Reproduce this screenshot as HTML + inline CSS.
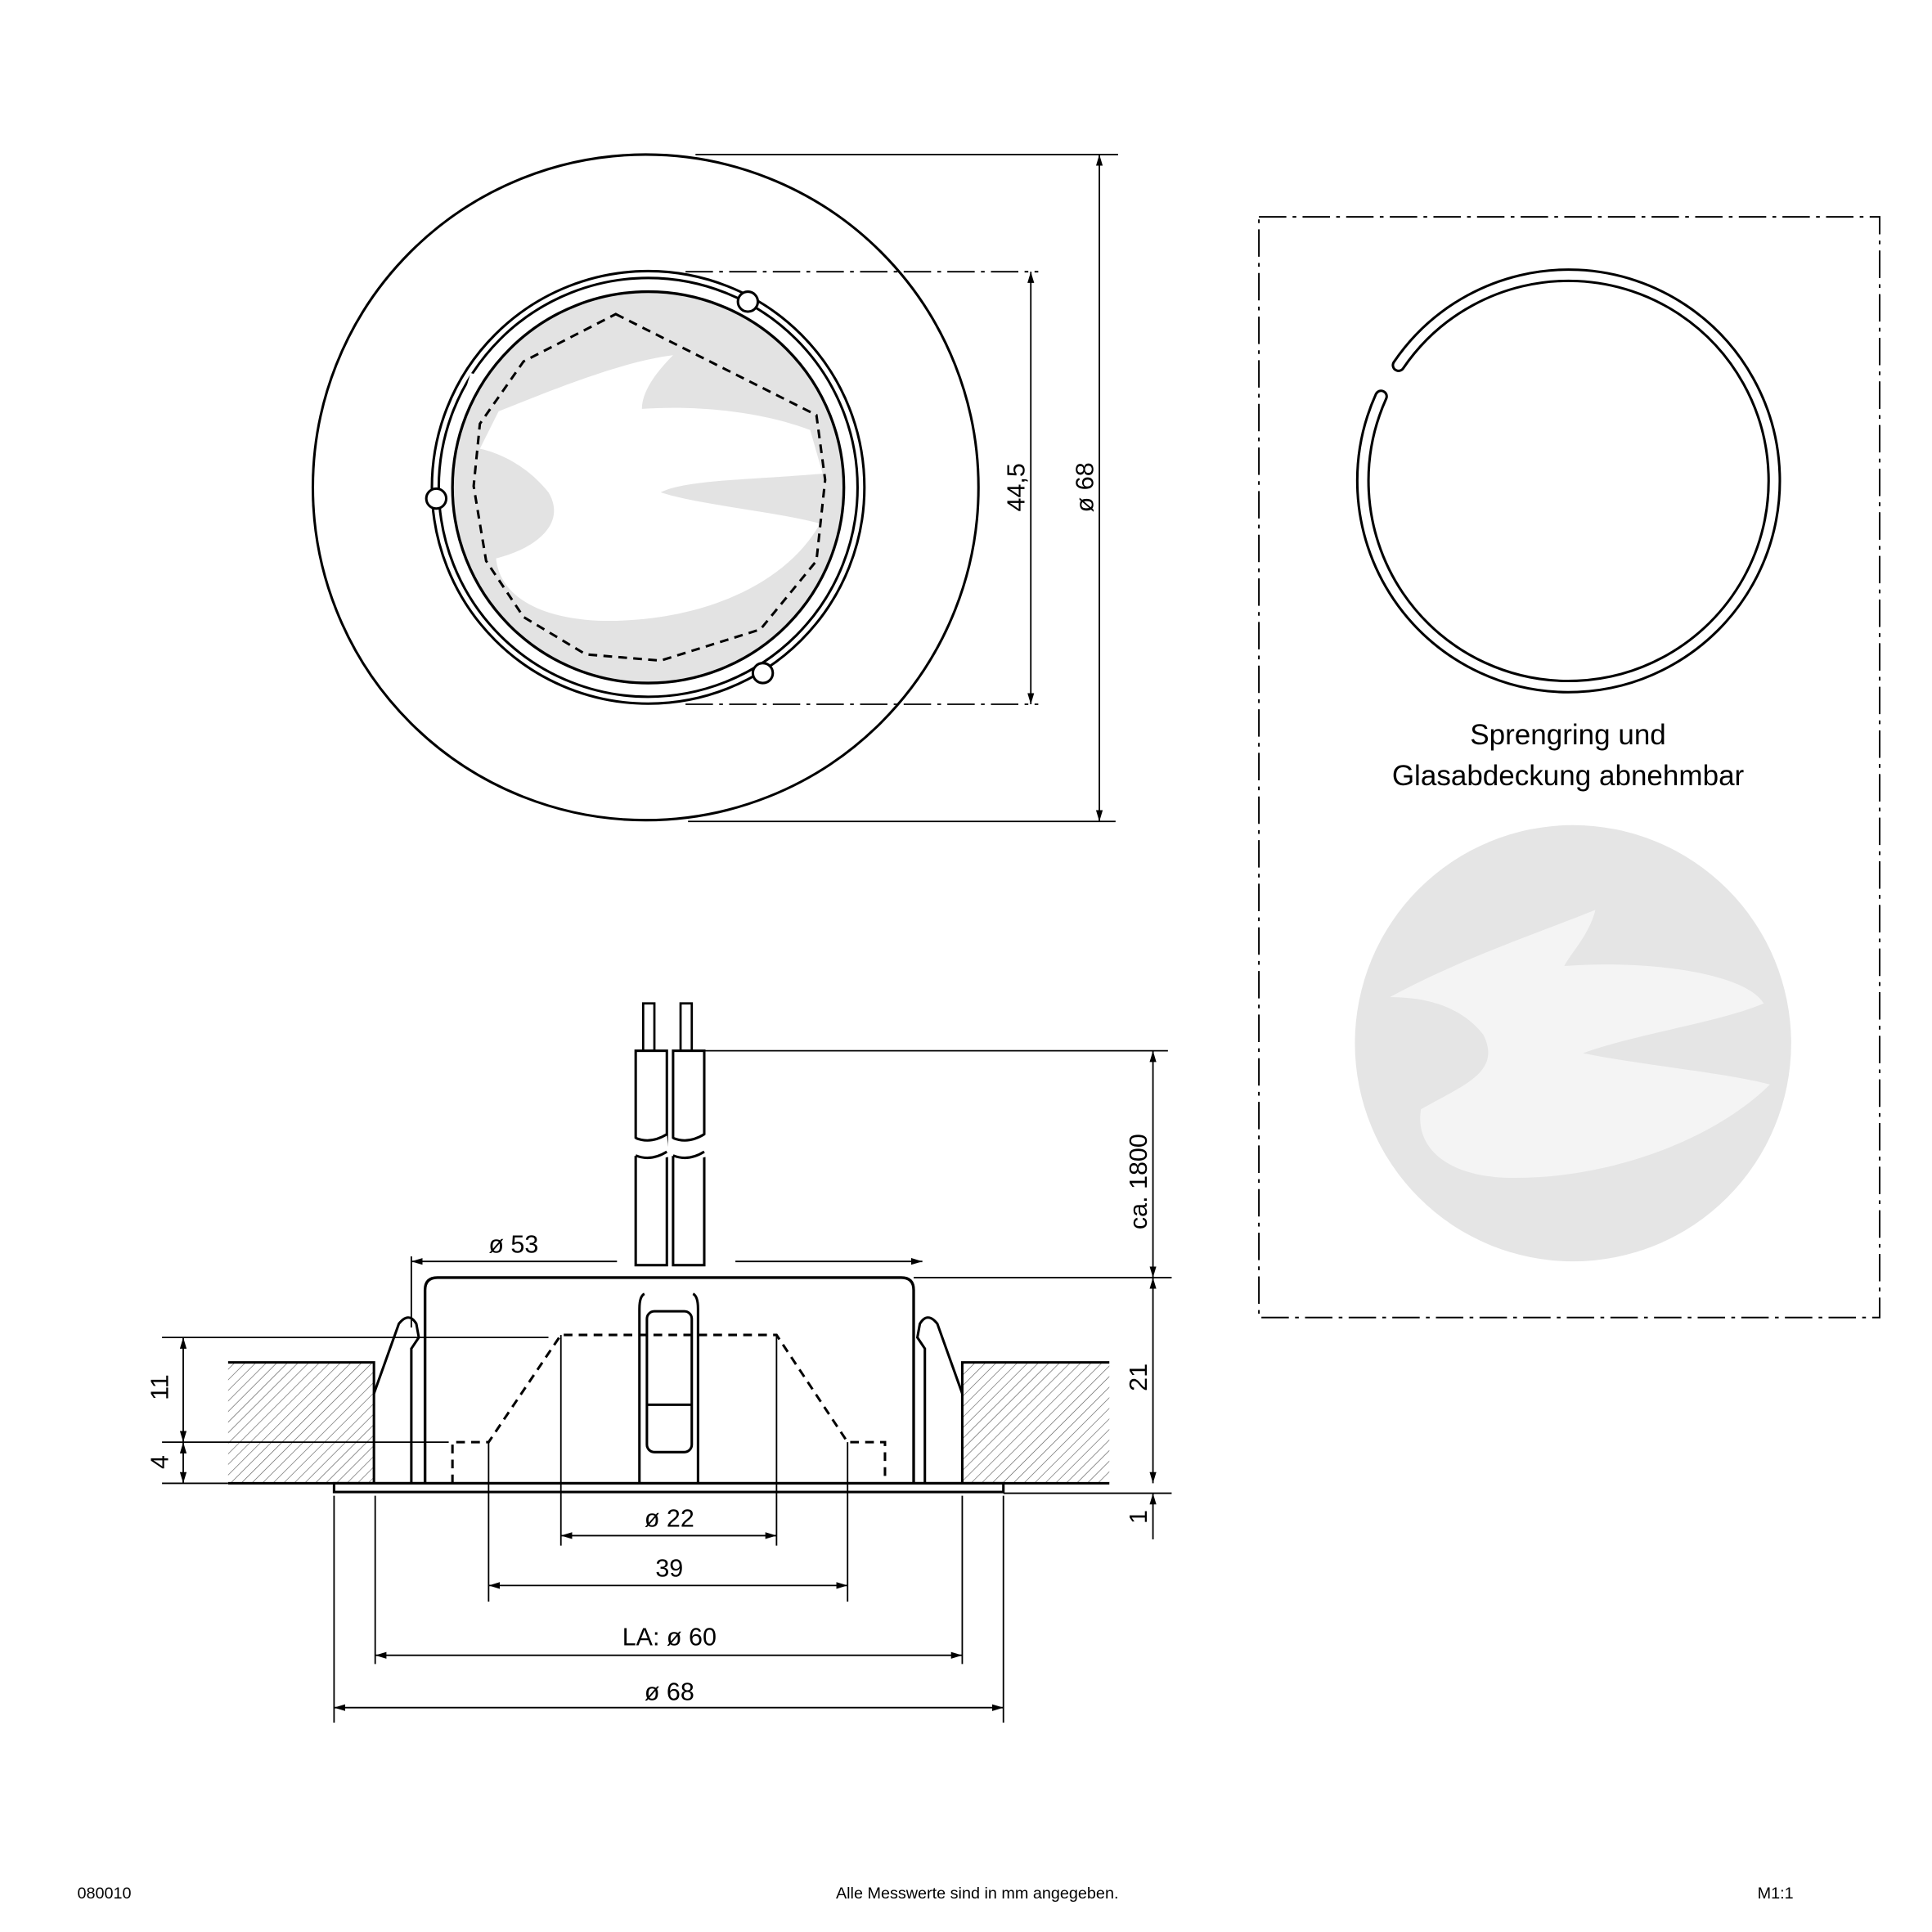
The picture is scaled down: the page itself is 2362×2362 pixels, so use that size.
<!DOCTYPE html>
<html><head><meta charset="utf-8"><style>html,body{margin:0;padding:0;background:#fff}svg{display:block}text{font-family:"Liberation Sans",sans-serif;fill:#000}</style></head>
<body>
<svg width="2362" height="2362" viewBox="0 0 1550 1550" xmlns="http://www.w3.org/2000/svg">
<defs>
<pattern id="h" width="6" height="6" patternUnits="userSpaceOnUse" patternTransform="rotate(45)"><line x1="0" y1="0" x2="0" y2="6" stroke="#555" stroke-width="0.8"/></pattern>
<marker id="a" viewBox="0 0 10 10" refX="10" refY="5" markerWidth="9" markerHeight="9" orient="auto-start-reverse" markerUnits="userSpaceOnUse"><path d="M0,2 L10,5 L0,8 z" fill="#000"/></marker>
</defs>
<g fill="none" stroke="#000">
<!-- top view -->
<circle cx="518" cy="391" r="267" stroke-width="2"/>
<circle cx="520" cy="391" r="157" fill="#e3e3e3" stroke-width="2.2"/>
<path d="M400,330 C450,310 500,290 540,285 C525,300 515,315 515,328 C560,325 610,330 650,345 L660,380 C600,385 550,385 530,395 C560,405 620,410 658,420 C630,470 560,500 480,498 C420,495 400,470 398,448 C430,440 455,420 440,395 C420,370 395,362 385,360 Z" fill="#fff" stroke="none"/>
<circle cx="520" cy="391" r="168" stroke-width="2"/>
<circle cx="520" cy="391" r="173.5" stroke-width="2"/>
<circle cx="600" cy="242" r="8" fill="#fff" stroke-width="2"/>
<circle cx="350" cy="400" r="8" fill="#fff" stroke-width="2"/>
<circle cx="612" cy="540" r="8" fill="#fff" stroke-width="2"/>
<path d="M380,300 L372,326" stroke="#fff" stroke-width="5"/>
<path d="M494,252 L655,333 L662,385 L655,450 L610,505 L530,530 L470,525 L420,495 L390,450 L380,390 L385,340 L420,290 Z" stroke-width="2" stroke-dasharray="7,5"/>
<g stroke-width="1.2">
<line x1="558" y1="124" x2="897" y2="124"/><line x1="552" y1="659" x2="895" y2="659"/>
<line x1="882" y1="124" x2="882" y2="659" marker-start="url(#a)" marker-end="url(#a)"/>
<line x1="550" y1="218" x2="833" y2="218" stroke-dasharray="22,5,3,5"/><line x1="550" y1="565" x2="833" y2="565" stroke-dasharray="22,5,3,5"/>
<line x1="827" y1="218" x2="827" y2="565" marker-start="url(#a)" marker-end="url(#a)"/>
</g>
<!-- right box -->
<rect x="1010" y="174" width="498" height="883" stroke-width="1.3" stroke-dasharray="22,5,3,5"/>
<path d="M1122,293 A165,165 0 1 1 1108,318" stroke-width="11" stroke-linecap="round"/>
<path d="M1122,293 A165,165 0 1 1 1108,318" stroke="#fff" stroke-width="7" stroke-linecap="round"/>
<circle cx="1262" cy="837" r="175" fill="#e5e5e5" stroke="none"/>
<path d="M1115,800 C1170,770 1230,750 1280,730 C1275,750 1260,765 1255,775 C1320,770 1400,780 1415,805 C1380,820 1310,830 1270,845 C1320,855 1380,860 1420,870 C1380,910 1300,945 1215,945 C1160,945 1135,920 1140,890 C1175,870 1205,860 1190,830 C1170,805 1140,800 1115,800 Z" fill="#f4f4f4" stroke="none"/>
<!-- side view -->
<rect x="183" y="1093" width="117" height="97" fill="url(#h)" stroke="none"/>
<rect x="772" y="1093" width="118" height="97" fill="url(#h)" stroke="none"/>
<path d="M183,1093 H300 V1190 M890,1093 H772 V1190" stroke-width="2"/>
<line x1="183" y1="1190" x2="890" y2="1190" stroke-width="2"/>
<rect x="268" y="1190" width="537" height="7" stroke-width="2" fill="#fff"/>
<path d="M341,1190 V1035 Q341,1025 351,1025 H723 Q733,1025 733,1035 V1190" stroke-width="2.2"/>
<path d="M300,1118 L320,1062 Q328,1052 334,1062 L336,1073 L330,1082 V1190" stroke-width="2"/>
<path d="M772,1118 L752,1062 Q744,1052 738,1062 L736,1073 L742,1082 V1190" stroke-width="2"/>
<path d="M513,1190 V1050 Q513,1040 517,1038 M560,1190 V1050 Q560,1040 556,1038" stroke-width="2"/>
<rect x="519" y="1052" width="36" height="113" rx="6" stroke-width="2"/>
<line x1="519" y1="1127" x2="555" y2="1127" stroke-width="2"/>
<rect x="510" y="843" width="25" height="172" stroke-width="2"/>
<rect x="540" y="843" width="25" height="172" stroke-width="2"/>
<path d="M508,913 Q520,918 535,910 L537,928 Q522,932 508,927 Z M538,913 Q550,918 567,910 L567,928 Q552,932 538,927 Z" fill="#fff" stroke="none"/>
<path d="M510,913 Q522,918 535,910 M510,927 Q522,932 535,924 M540,913 Q552,918 565,910 M540,927 Q552,932 565,924" stroke-width="2"/>
<rect x="516" y="805" width="9" height="38" stroke-width="1.8"/>
<rect x="546" y="805" width="9" height="38" stroke-width="1.8"/>
<path d="M363,1190 V1157 H392 L450,1071 H623 L680,1157 H710 V1190" stroke-width="2" stroke-dasharray="7,5"/>
<g stroke-width="1.2">
<line x1="330" y1="1012" x2="495" y2="1012" marker-start="url(#a)"/><line x1="590" y1="1012" x2="740" y2="1012" marker-end="url(#a)"/>
<line x1="330" y1="1008" x2="330" y2="1065"/>
<line x1="450" y1="1071" x2="450" y2="1240"/><line x1="623" y1="1071" x2="623" y2="1240"/>
<line x1="450" y1="1232" x2="623" y2="1232" marker-start="url(#a)" marker-end="url(#a)"/>
<line x1="392" y1="1157" x2="392" y2="1285"/><line x1="680" y1="1157" x2="680" y2="1285"/>
<line x1="392" y1="1272" x2="680" y2="1272" marker-start="url(#a)" marker-end="url(#a)"/>
<line x1="301" y1="1200" x2="301" y2="1335"/><line x1="772" y1="1200" x2="772" y2="1335"/>
<line x1="301" y1="1328" x2="772" y2="1328" marker-start="url(#a)" marker-end="url(#a)"/>
<line x1="268" y1="1200" x2="268" y2="1382"/><line x1="805" y1="1200" x2="805" y2="1382"/>
<line x1="268" y1="1370" x2="805" y2="1370" marker-start="url(#a)" marker-end="url(#a)"/>
<line x1="565" y1="843" x2="937" y2="843"/><line x1="733" y1="1025" x2="940" y2="1025"/><line x1="805" y1="1198" x2="940" y2="1198"/>
<line x1="925" y1="843" x2="925" y2="1025" marker-start="url(#a)" marker-end="url(#a)"/>
<line x1="925" y1="1025" x2="925" y2="1190" marker-start="url(#a)" marker-end="url(#a)"/>
<line x1="925" y1="1235" x2="925" y2="1198" marker-end="url(#a)"/>
<line x1="130" y1="1073" x2="440" y2="1073"/><line x1="130" y1="1157" x2="360" y2="1157"/><line x1="130" y1="1190" x2="183" y2="1190"/>
<line x1="147" y1="1073" x2="147" y2="1157" marker-start="url(#a)" marker-end="url(#a)"/>
<line x1="147" y1="1157" x2="147" y2="1190" marker-start="url(#a)" marker-end="url(#a)"/>
</g>
</g>
<g font-size="20">
<text transform="translate(877,391) rotate(-90)" text-anchor="middle">ø 68</text>
<text transform="translate(822,391) rotate(-90)" text-anchor="middle">44,5</text>
<text x="1258" y="597" text-anchor="middle" font-size="23">Sprengring und</text>
<text x="1258" y="630" text-anchor="middle" font-size="23">Glasabdeckung abnehmbar</text>
<text x="412" y="1005" text-anchor="middle">ø 53</text>
<text x="537" y="1225" text-anchor="middle">ø 22</text>
<text x="537" y="1265" text-anchor="middle">39</text>
<text x="537" y="1320" text-anchor="middle">LA: ø 60</text>
<text x="537" y="1364" text-anchor="middle">ø 68</text>
<text transform="translate(920,948) rotate(-90)" text-anchor="middle">ca. 1800</text>
<text transform="translate(920,1105) rotate(-90)" text-anchor="middle">21</text>
<text transform="translate(920,1217) rotate(-90)" text-anchor="middle">1</text>
<text transform="translate(135,1113) rotate(-90)" text-anchor="middle">11</text>
<text transform="translate(135,1173) rotate(-90)" text-anchor="middle">4</text>
</g>
<g font-size="13">
<text x="62" y="1523">080010</text>
<text x="784" y="1523" text-anchor="middle">Alle Messwerte sind in mm angegeben.</text>
<text x="1410" y="1523">M1:1</text>
</g>
</svg>
</body></html>
